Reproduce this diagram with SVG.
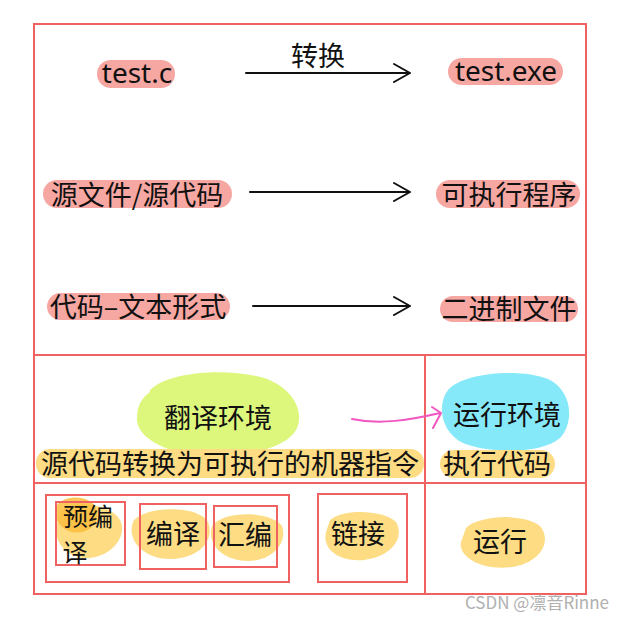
<svg xmlns="http://www.w3.org/2000/svg" width="633" height="617" viewBox="0 0 633 617">
<style>
.t{font-family:"Noto Sans CJK SC","Noto Sans",sans-serif;font-size:27px;fill:#111;text-anchor:middle;dominant-baseline:central}
.lat{font-family:"Noto Sans","Liberation Sans",sans-serif;font-size:28px;fill:#111;text-anchor:middle;dominant-baseline:central}
.pk{fill:#f7a7a2}
.yl{fill:#fddc84}
.box{fill:none;stroke:#f06262;stroke-width:2}
.arr{fill:none;stroke:#111;stroke-width:2;stroke-linecap:round;stroke-linejoin:round}
</style>
<rect width="633" height="617" fill="#fff"/>
<g id="frame">
<rect class="box" x="34" y="24" width="552" height="570"/>
<line class="box" x1="34" y1="355" x2="586" y2="355"/>
<line class="box" x1="34" y1="483" x2="586" y2="483"/>
<line class="box" x1="425" y1="355" x2="425" y2="594"/>
</g>
<g id="n-testc"><rect class="pk" x="97" y="60" width="78" height="28" rx="14"/><text class="lat" x="137" y="72">test.c</text></g>
<g id="n-testexe"><rect class="pk" x="448" y="58" width="115" height="27" rx="13.5"/><text class="lat" x="506" y="70">test.exe</text></g>
<g id="n-src"><rect class="pk" x="43" y="180" width="189" height="28" rx="14"/><text class="t" x="137" y="193">源文件/源代码</text></g>
<g id="n-exe"><rect class="pk" x="436" y="180" width="144" height="28" rx="14"/><text class="t" x="509" y="193">可执行程序</text></g>
<g id="n-code"><rect class="pk" x="47" y="293" width="183" height="27" rx="13.5"/><text class="t" x="138" y="305">代码–文本形式</text></g>
<g id="n-bin"><rect class="pk" x="440" y="296" width="138" height="26" rx="13"/><text class="t" x="509" y="307">二进制文件</text></g>
<g id="n-trans-env"><path d="M150,390 C170,370 232,368 264,378 C294,388 304,412 297,428 C287,450 240,458 200,455 C160,452 136,435 137,418 C137,405 142,398 150,392 Z" fill="#dcf77c"/><text class="t" x="218" y="416">翻译环境</text></g>
<g id="n-run-env"><path d="M448,390 C463,372 522,368 548,379 C572,390 575,422 560,438 C542,454 490,454 463,443 C442,433 436,406 448,390 Z" fill="#86e9f9"/><text class="t" x="507" y="413">运行环境</text></g>
<g id="n-desc1"><rect class="yl" x="36" y="449" width="388" height="29" rx="14"/><text class="t" x="230" y="462">源代码转换为可执行的机器指令</text></g>
<g id="n-desc2"><rect class="yl" x="440" y="450" width="115" height="28" rx="14"/><text class="t" x="497" y="462">执行代码</text></g>
<g id="n-group"><rect class="box" x="46" y="495" width="243" height="87"/></g>
<g id="n-pre">
<path d="M60,512 C75,498 112,505 120,520 C128,536 112,556 90,558 C70,560 55,545 56,528 Z" fill="#fddc84"/>
<path d="M57,505 C67,493 93,496 97,510 C100,525 86,535 72,532 C59,529 51,515 57,505 Z" fill="#fbbd3c" opacity="0.85"/>
<rect class="box" x="56" y="502" width="69" height="63"/>
<text class="t" style="font-size:25px"><tspan x="88" y="515">预编</tspan><tspan x="75" y="551">译</tspan></text>
</g>
<g id="n-compile">
<path d="M133,522 C142,506 198,504 208,522 C215,540 200,558 172,559 C146,560 126,542 133,522 Z" fill="#fddc84"/>
<rect class="box" x="140" y="504" width="66" height="65"/><text class="t" x="173" y="532">编译</text>
</g>
<g id="n-asm">
<path d="M212,526 C224,510 272,511 282,526 C288,543 272,561 248,561 C224,561 206,545 212,526 Z" fill="#fddc84"/>
<rect class="box" x="214" y="506" width="63" height="61"/><text class="t" x="245" y="533">汇编</text>
</g>
<g id="n-link">
<path d="M330,520 C344,508 384,510 396,522 C405,538 392,556 364,560 C338,562 322,549 326,532 Z" fill="#fddc84"/>
<rect class="box" x="318" y="494" width="89" height="88"/><text class="t" x="358" y="532">链接</text>
</g>
<g id="n-run">
<path d="M466,528 C478,516 522,512 540,526 C552,540 542,562 512,567 C484,571 458,558 461,542 Z" fill="#fddc84"/>
<text class="t" x="500" y="540">运行</text>
</g>
<g id="connectors">
<text class="t" x="318" y="54">转换</text>
<path class="arr" d="M246,73 H410 M394,64 L410,73 L394,82"/>
<path class="arr" d="M250,192 H410 M394,183 L410,192 L394,201"/>
<path class="arr" d="M253,306 H410 M394,297 L410,306 L394,315"/>
<path d="M352,419 C380,425 410,420 440,413 M432,407 L441,413 L433,428" fill="none" stroke="#f256c0" stroke-width="2" stroke-linecap="round" stroke-linejoin="round"/>
</g>
<text x="537" y="601" font-family="Noto Sans CJK SC,Noto Sans,sans-serif" font-size="17" fill="#b0b0b0" text-anchor="middle" dominant-baseline="central">CSDN @凛音Rinne</text>
</svg>
